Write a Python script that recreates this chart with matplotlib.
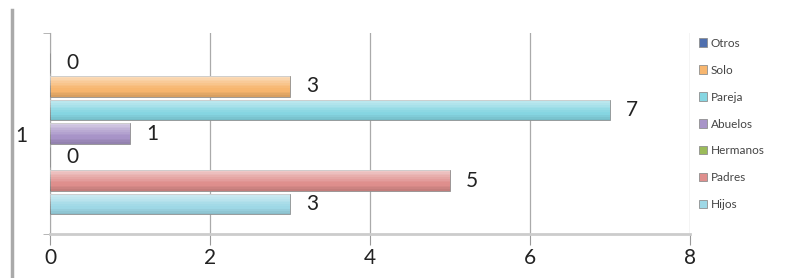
import matplotlib
matplotlib.use("Agg")
import matplotlib.pyplot as plt
from matplotlib.lines import Line2D
import numpy as np

categories = ["1"]
series = ["Hijos", "Padres", "Hermanos", "Abuelos", "Pareja", "Solo", "Otros"]
values = [3, 5, 0, 1, 7, 3, 0]
colors = ["#9ed8e6", "#df8f8d", "#9bbb59", "#a894c8", "#86d6e2", "#f7b66f", "#4f6fae"]
xticks = [0, 2, 4, 6, 8]

plt.rcParams['font.family'] = ['Lato', 'DejaVu Sans']

fig = plt.figure(figsize=(7.99, 2.78), dpi=100)
ax = fig.add_axes([50/799, 1-234/278, 640/799, 201/278])

n = len(series)
offsets = np.arange(n) - (n - 1) / 2
h = 0.88
nb = 12
for i, (s, v, c) in enumerate(zip(series, values, colors)):
    y = offsets[i]
    ax.barh(y, v, height=h, color=c, edgecolor="#8f8f8f", linewidth=0.6, label=s, zorder=3)
    # smooth vertical shading for a glossy look
    bh = h / nb
    for k in range(nb):
        t = (k + 0.5) / nb  # 0 bottom -> 1 top
        yk = y - h / 2 + (k + 0.5) * bh
        if t > 0.45:
            ax.barh(yk, v, height=bh, color="white", alpha=0.5 * (t - 0.45) / 0.55 + 0.05,
                    linewidth=0, zorder=4)
        elif t < 0.3:
            ax.barh(yk, v, height=bh, color="black", alpha=0.14 * (0.3 - t) / 0.3,
                    linewidth=0, zorder=4)
    ax.text(v + 0.2, y, str(v), va="center", ha="left", fontsize=15, color="#222222", zorder=5)

ax.set_xlim(0, 8)
ax.set_ylim(-4.27, 4.27)
ax.set_xticks(xticks)
ax.set_xticklabels([str(t) for t in xticks], fontsize=15, color="#222222")
ax.set_yticks([0])
ax.set_yticklabels(categories, fontsize=15, color="#222222")
ax.set_yticks([-4.27, 4.27], minor=True)
ax.tick_params(axis="y", which="minor", length=5, color="#aaaaaa")
ax.tick_params(axis="x", length=8, color="#999999", pad=2)
ax.tick_params(axis="y", which="major", length=0, pad=16)
ax.grid(axis="x", color="#aaaaaa", linewidth=0.9, zorder=0)
for sp in ["top", "right"]:
    ax.spines[sp].set_visible(False)
ax.spines["left"].set_color("#aaaaaa")
ax.spines["bottom"].set_color("#cccccc")
ax.spines["bottom"].set_linewidth(2)

handles, labels = ax.get_legend_handles_labels()
leg = fig.legend(handles[::-1], labels[::-1], loc="upper left",
                 bbox_to_anchor=(694/799, 1-33/278), frameon=False,
                 fontsize=8.5, handlelength=0.7, handleheight=0.7,
                 handletextpad=0.3, labelspacing=1.35, borderaxespad=0,
                 labelcolor="#444444")

fig.add_artist(Line2D([12/799, 12/799], [0, 1-10/278], color="#aaaaaa", linewidth=2.5,
                      transform=fig.transFigure))

fig.savefig("out.png", dpi=100)
